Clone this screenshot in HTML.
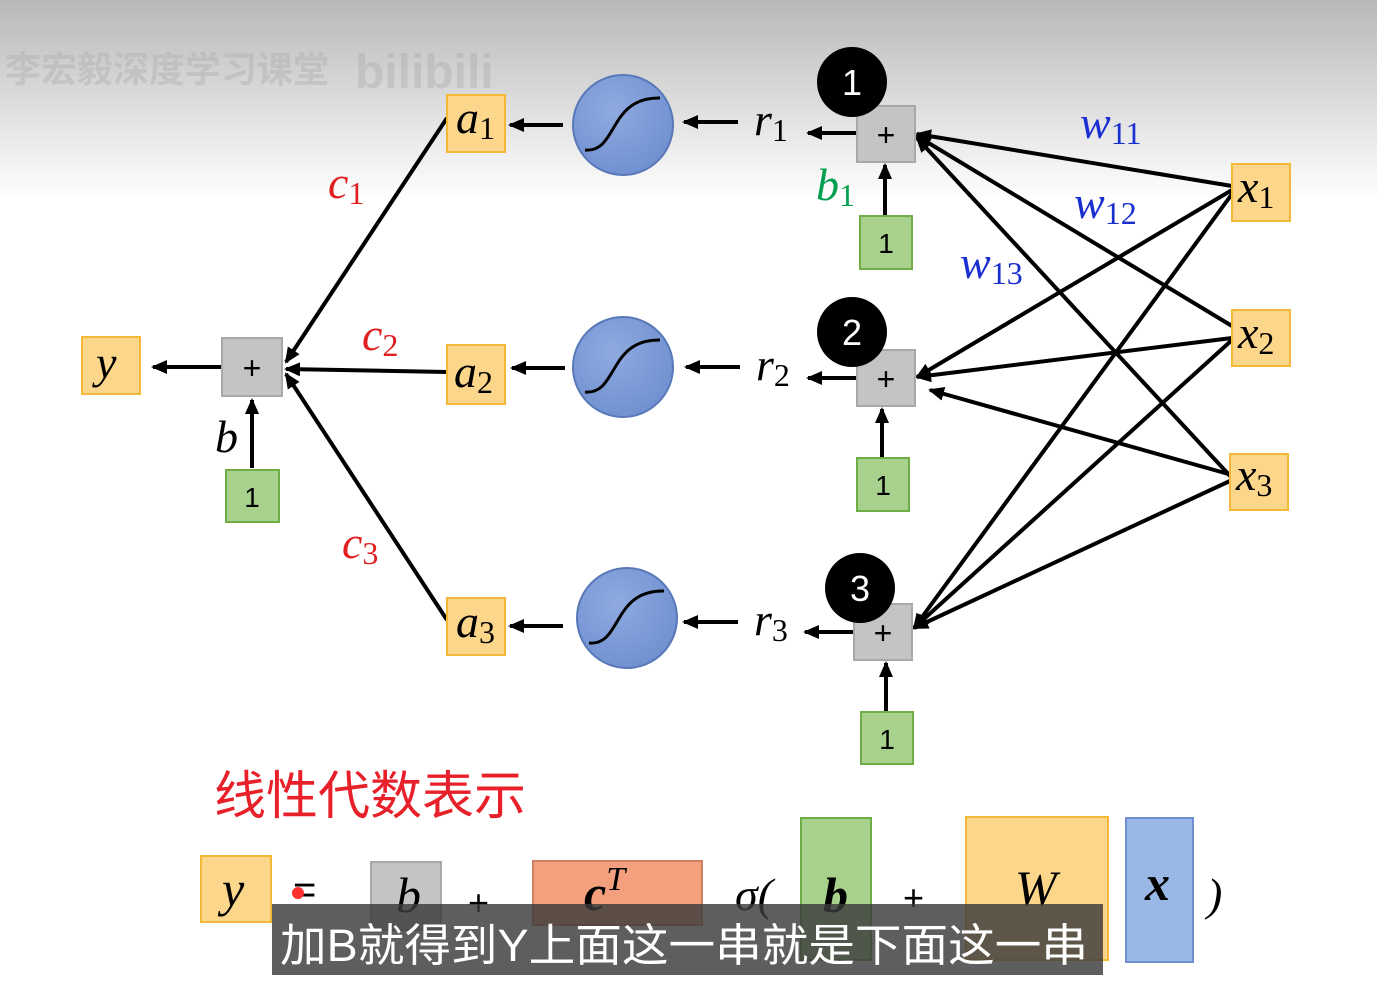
<!DOCTYPE html>
<html><head><meta charset="utf-8"><style>
html,body{margin:0;padding:0;width:1377px;height:986px;overflow:hidden;background:#fff}
svg{display:block}
.m{font-family:"Liberation Serif","DejaVu Serif",serif;font-style:italic}
.s{font-family:"Liberation Sans",sans-serif}
</style></head><body>
<svg width="1377" height="986" viewBox="0 0 1377 986" xmlns="http://www.w3.org/2000/svg">
<defs>
<linearGradient id="bg" x1="0" y1="0" x2="0" y2="1">
<stop offset="0" stop-color="#b8b8b8"/><stop offset="1" stop-color="#ffffff"/></linearGradient>
<radialGradient id="cg" cx="0.4" cy="0.35" r="0.7"><stop offset="0" stop-color="#8faae0"/><stop offset="1" stop-color="#6f8fd0"/></radialGradient>
<marker id="ar2" markerWidth="16" markerHeight="14" refX="14" refY="7" orient="auto" markerUnits="userSpaceOnUse"><path d="M0,0 L16,7 L0,14 z" fill="#000"/></marker>
</defs>
<rect x="0" y="0" width="1377" height="200" fill="url(#bg)"/>
<text x="5" y="82" font-size="36" fill="#b0b0b0" opacity="0.45" font-family="'Noto Sans CJK SC',sans-serif" font-weight="bold">李宏毅深度学习课堂</text>
<text x="355" y="88" font-size="48" fill="#b0b0b0" opacity="0.45" class="s" font-weight="bold">bilibili</text>

<g stroke="#000" stroke-width="4" fill="none" marker-end="url(#ar2)">
<line x1="1232" y1="186" x2="917" y2="134"/>
<line x1="1232" y1="326" x2="917" y2="136"/>
<line x1="1232" y1="478" x2="917" y2="138"/>
<line x1="1232" y1="190" x2="917" y2="377"/>
<line x1="1232" y1="338" x2="917" y2="377"/>
<line x1="1232" y1="475" x2="930" y2="390"/>
<line x1="1232" y1="194" x2="914" y2="628"/>
<line x1="1232" y1="340" x2="914" y2="628"/>
<line x1="1232" y1="480" x2="914" y2="628"/>
<line x1="856" y1="133" x2="808" y2="133"/>
<line x1="856" y1="378" x2="808" y2="378"/>
<line x1="853" y1="632" x2="805" y2="632"/>
<line x1="885" y1="216" x2="885" y2="165"/>
<line x1="882" y1="458" x2="882" y2="409"/>
<line x1="886" y1="712" x2="886" y2="663"/>
<line x1="738" y1="122" x2="684" y2="122"/>
<line x1="740" y1="367" x2="686" y2="367"/>
<line x1="738" y1="622" x2="684" y2="622"/>
<line x1="563" y1="125" x2="510" y2="125"/>
<line x1="565" y1="368" x2="512" y2="368"/>
<line x1="563" y1="626" x2="510" y2="626"/>
<line x1="447" y1="118" x2="286" y2="362"/>
<line x1="447" y1="372" x2="286" y2="369"/>
<line x1="447" y1="620" x2="286" y2="374"/>
<line x1="222" y1="367" x2="153" y2="367"/>
<line x1="252" y1="468" x2="252" y2="400"/>
</g>

<g stroke="#5878b8" stroke-width="2" fill="url(#cg)">
<circle cx="623" cy="125" r="50"/><circle cx="623" cy="367" r="50"/><circle cx="627" cy="618" r="50"/>
</g>
<g stroke="#000" stroke-width="3" fill="none">
<path d="M585,150 C618,153 608,97 660,98"/>
<path d="M585,392 C618,395 608,339 660,340"/>
<path d="M589,643 C622,646 612,590 664,591"/>
</g>

<g fill="#fcd68a" stroke="#f2b938" stroke-width="2">
<rect x="447" y="95" width="58" height="57"/><rect x="447" y="345" width="58" height="59"/><rect x="447" y="598" width="58" height="57"/>
<rect x="1232" y="164" width="58" height="57"/><rect x="1232" y="310" width="58" height="56"/><rect x="1230" y="454" width="58" height="56"/>
<rect x="82" y="337" width="58" height="57"/>
</g>
<g fill="#c4c4c4" stroke="#a8a8a8" stroke-width="2">
<rect x="857" y="106" width="58" height="56"/><rect x="857" y="350" width="58" height="56"/><rect x="854" y="604" width="58" height="56"/><rect x="222" y="338" width="60" height="58"/>
</g>
<g class="s" font-size="32" text-anchor="middle" fill="#000">
<text x="886" y="146">+</text><text x="886" y="390">+</text><text x="883" y="644">+</text><text x="252" y="379">+</text>
</g>
<g fill="#a9d18e" stroke="#70ad47" stroke-width="2">
<rect x="860" y="216" width="52" height="53"/><rect x="857" y="458" width="52" height="53"/><rect x="861" y="712" width="52" height="52"/><rect x="226" y="470" width="53" height="52"/>
</g>
<g class="s" font-size="28" text-anchor="middle" fill="#000">
<text x="886" y="253">1</text><text x="883" y="495">1</text><text x="887" y="749">1</text><text x="252" y="507">1</text>
</g>
<g fill="#000"><circle cx="852" cy="82" r="35"/><circle cx="852" cy="332" r="35"/><circle cx="860" cy="588" r="35"/></g>
<g class="s" font-size="36" text-anchor="middle" fill="#fff">
<text x="852" y="95">1</text><text x="852" y="345">2</text><text x="860" y="601">3</text>
</g>

<g class="m" font-size="46" fill="#000">
<text x="456" y="133">a<tspan font-size="32" font-style="normal" dy="6">1</tspan></text>
<text x="454" y="387">a<tspan font-size="32" font-style="normal" dy="6">2</tspan></text>
<text x="456" y="637">a<tspan font-size="32" font-style="normal" dy="6">3</tspan></text>
<text x="1238" y="202">x<tspan font-size="32" font-style="normal" dy="6">1</tspan></text>
<text x="1238" y="348">x<tspan font-size="32" font-style="normal" dy="6">2</tspan></text>
<text x="1236" y="490">x<tspan font-size="32" font-style="normal" dy="6">3</tspan></text>
<text x="754" y="135">r<tspan font-size="32" font-style="normal" dy="6">1</tspan></text>
<text x="756" y="380">r<tspan font-size="32" font-style="normal" dy="6">2</tspan></text>
<text x="754" y="635">r<tspan font-size="32" font-style="normal" dy="6">3</tspan></text>
<text x="96" y="378">y</text>
<text x="215" y="452">b</text>
</g>
<g class="m" font-size="46" fill="#e02020">
<text x="328" y="198">c<tspan font-size="32" font-style="normal" dy="6">1</tspan></text>
<text x="362" y="350">c<tspan font-size="32" font-style="normal" dy="6">2</tspan></text>
<text x="342" y="558">c<tspan font-size="32" font-style="normal" dy="6">3</tspan></text>
</g>
<text class="m" font-size="46" fill="#00a050" x="816" y="200">b<tspan font-size="32" font-style="normal" dy="6">1</tspan></text>
<g class="m" font-size="46" fill="#1a2fd0">
<text x="1080" y="138">w<tspan font-size="32" font-style="normal" dy="6">11</tspan></text>
<text x="1074" y="218">w<tspan font-size="32" font-style="normal" dy="6">12</tspan></text>
<text x="960" y="278">w<tspan font-size="32" font-style="normal" dy="6">13</tspan></text>
</g>

<text x="214" y="814" font-size="52" fill="#e8202a" font-family="'Noto Sans CJK SC',sans-serif">线性代数表示</text>
<rect x="201" y="856" width="70" height="66" fill="#fcd68a" stroke="#f2b938" stroke-width="2"/>
<text class="m" x="222" y="906" font-size="50">y</text>
<text class="s" x="293" y="903" font-size="40">=</text>
<circle cx="298" cy="893" r="6" fill="#ff3030"/>
<rect x="371" y="862" width="70" height="68" fill="#c4c4c4" stroke="#a8a8a8" stroke-width="2"/>
<text class="m" x="396" y="912" font-size="50">b</text>
<text class="s" x="468" y="915" font-size="36">+</text>
<rect x="533" y="861" width="169" height="64" fill="#f4a07e" stroke="#d08060" stroke-width="2"/>
<text class="m" x="584" y="910" font-size="50" font-weight="bold">c<tspan font-size="34" font-weight="normal" dy="-20">T</tspan></text>
<text class="m" x="735" y="910" font-size="46">σ(</text>
<rect x="801" y="818" width="70" height="142" fill="#a9d18e" stroke="#70ad47" stroke-width="2"/>
<text class="m" x="823" y="912" font-size="50" font-weight="bold">b</text>
<text class="s" x="903" y="910" font-size="36">+</text>
<rect x="966" y="817" width="142" height="143" fill="#fcd68a" stroke="#f2b938" stroke-width="2"/>
<text class="m" x="1015" y="905" font-size="50">W</text>
<rect x="1126" y="818" width="67" height="144" fill="#9ab8e6" stroke="#6f8fd0" stroke-width="2"/>
<text class="m" x="1145" y="900" font-size="50" font-weight="bold">x</text>
<text class="m" x="1207" y="910" font-size="46">)</text>
<rect x="272" y="904" width="831" height="71" fill="#3a3a3a" opacity="0.82"/>
<text x="280" y="961" font-size="45" fill="#fff" textLength="808" lengthAdjust="spacingAndGlyphs" font-family="'Liberation Sans','Noto Sans CJK SC',sans-serif">加B就得到Y上面这一串就是下面这一串</text>
</svg>
</body></html>
